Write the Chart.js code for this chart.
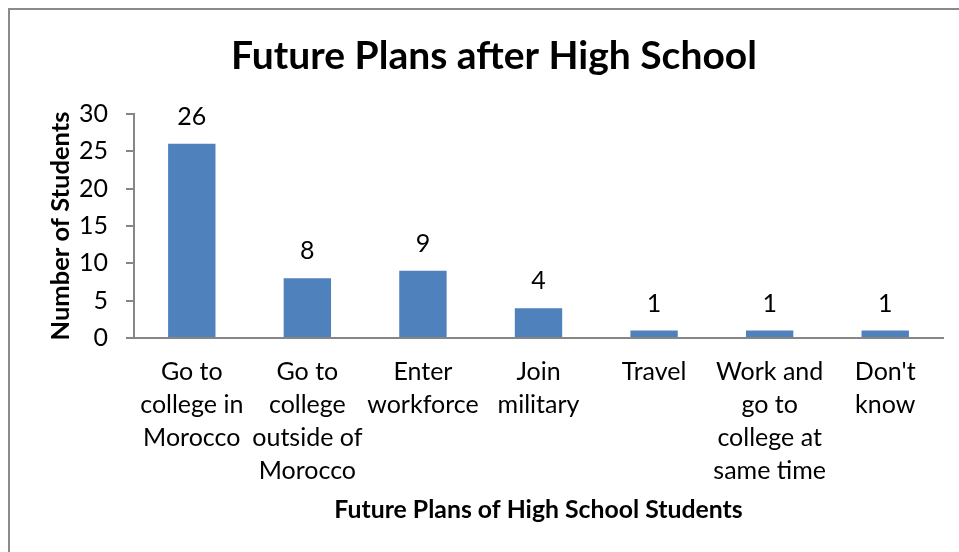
<!DOCTYPE html>
<html>
<head>
<meta charset="utf-8">
<script src="https://cdn.jsdelivr.net/npm/chart.js@4.4.0/dist/chart.umd.min.js"></script>
<style>
  html, body { margin: 0; padding: 0; background: #fff; }
  #wrap { width: 959px; height: 552px; position: relative; }
</style>
</head>
<body>
<div id="wrap"><canvas id="c" width="959" height="552"></canvas></div>
<script>
// Survey answers, one entry per plan (labels split into display lines)
const categories = [
  ["Go to", "college in", "Morocco"],
  ["Go to", "college", "outside of", "Morocco"],
  ["Enter", "workforce"],
  ["Join", "military"],
  ["Travel"],
  ["Work and", "go to", "college at", "same time"],
  ["Don't", "know"]
];
const studentCounts = [26, 8, 9, 4, 1, 1, 1];
const yTicks = [0, 5, 10, 15, 20, 25, 30];

const FONT = "Lato, 'Open Sans', sans-serif";
const AXIS_GREY = "#868686";

// Frame around the chart (left and top edges fall inside the canvas)
const framePlugin = {
  id: "frame",
  beforeDraw(chart) {
    const ctx = chart.ctx;
    ctx.save();
    ctx.fillStyle = "#ffffff";
    ctx.fillRect(0, 0, chart.width, chart.height);
    ctx.strokeStyle = "#8a8a8a";
    ctx.lineWidth = 2;
    ctx.beginPath();
    ctx.moveTo(chart.width + 2, 9);
    ctx.lineTo(9, 9);
    ctx.lineTo(9, chart.height + 2);
    ctx.stroke();
    ctx.restore();
  }
};

// Value written above each bar
const valueLabels = {
  id: "valueLabels",
  afterDatasetsDraw(chart) {
    const ctx = chart.ctx;
    const meta = chart.getDatasetMeta(0);
    const data = chart.data.datasets[0].data;
    ctx.save();
    ctx.font = "25px " + FONT;
    ctx.fillStyle = "#000";
    ctx.textAlign = "center";
    ctx.textBaseline = "middle";
    meta.data.forEach((bar, i) => {
      ctx.fillText(String(data[i]), bar.x, bar.y - 27);
    });
    ctx.restore();
  }
};

new Chart(document.getElementById("c"), {
  type: "bar",
  data: {
    labels: categories,
    datasets: [{
      data: studentCounts,
      backgroundColor: "#4F81BD",
      borderWidth: 0,
      categoryPercentage: 1,
      barPercentage: 0.41
    }]
  },
  options: {
    responsive: false,
    animation: false,
    devicePixelRatio: 1,
    layout: { padding: { left: 45, right: 16, top: 0, bottom: 27 } },
    plugins: {
      legend: { display: false },
      tooltip: { enabled: false },
      title: {
        display: true,
        text: "Future Plans after High School",
        color: "#000",
        font: { family: FONT, size: 39, weight: "bold", lineHeight: 1.2 },
        padding: { top: 33.5, bottom: 33.7 }
      }
    },
    scales: {
      x: {
        afterFit(scale) {
          scale.height = 187;
        },
        grid: { display: true, drawOnChartArea: false, drawTicks: false },
        border: { display: true, color: AXIS_GREY, width: 2 },
        ticks: {
          color: "#000",
          padding: 17.5,
          maxRotation: 0,
          autoSkip: false,
          font: { family: FONT, size: 25, lineHeight: 1.32 }
        },
        title: {
          display: true,
          text: "Future Plans of High School Students",
          color: "#000",
          font: { family: FONT, size: 24.8, weight: "bold", lineHeight: 1.2 },
          padding: { top: 9, bottom: 0 }
        }
      },
      y: {
        min: 0,
        max: 30,
        afterBuildTicks(scale) {
          scale.ticks = yTicks.map(v => ({ value: v }));
        },
        afterFit(scale) {
          scale.width = 89;
        },
        grid: { display: true, drawOnChartArea: false, drawTicks: true, tickLength: 8, color: AXIS_GREY, lineWidth: 2 },
        border: { display: true, color: AXIS_GREY, width: 2 },
        ticks: {
          color: "#000",
          padding: 18,
          font: { family: FONT, size: 25, lineHeight: 1.2 }
        },
        title: {
          display: true,
          text: "Number of Students",
          color: "#000",
          font: { family: FONT, size: 25.5, weight: "bold", lineHeight: 1.2 },
          padding: { top: 0, bottom: 7 }
        }
      }
    }
  },
  plugins: [framePlugin, valueLabels]
});
</script>
</body>
</html>
